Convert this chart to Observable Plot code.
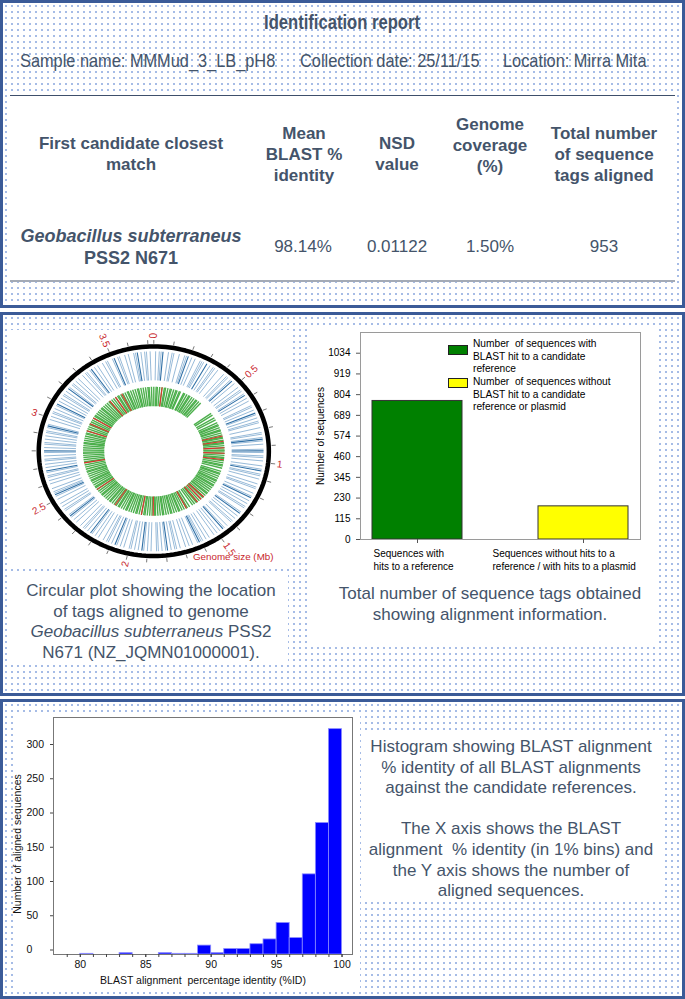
<!DOCTYPE html>
<html><head><meta charset="utf-8">
<script src="https://cdn.jsdelivr.net/npm/d3@7"></script>
<script src="https://cdn.jsdelivr.net/npm/@observablehq/plot@0.6"></script>
<style>
html,body{margin:0;padding:0;background:#fff;}
body{width:685px;height:999px;position:relative;overflow:hidden;font-family:"Liberation Sans",Arial,sans-serif;color:#44546a;}
.panel{position:absolute;box-sizing:border-box;border:3px solid #3b5b98;background-color:#fff;
  background-image:radial-gradient(circle at center,#a6bce6 0.75px,rgba(255,255,255,0) 1.2px);background-size:6px 6px;}
.white{position:absolute;background:#fff;}
.t{position:absolute;transform:translate(-50%,-50%);white-space:nowrap;text-align:center;}
.hd{font-weight:bold;font-size:17px;line-height:21px;}
.val{font-size:17px;}
.cap{font-size:17px;line-height:20.6px;}
.abs{position:absolute;}
.sl{position:absolute;white-space:nowrap;font-size:19px;transform-origin:left center;transform:scaleX(0.86);}
.leg{position:absolute;font-size:10.2px;line-height:12.7px;color:#000;white-space:nowrap;}
.sw{position:absolute;box-sizing:border-box;border:1px solid #222;}
svg{overflow:visible;}
</style>
</head><body>
<script>
// ---------------- DATA ----------------
const reportTitle = "Identification report";
const sampleName = "MMMud_3_LB_pH8";
const collectionDate = "25/11/15";
const sampleLocation = "Mirra Mita";
const candidateName = "Geobacillus subterraneus";
const candidateStrain = "PSS2 N671";
const meanIdentity = "98.14%";
const nsdValue = "0.01122";
const genomeCoverage = "1.50%";
const totalTags = "953";

// circular plot (positions in Mb)
const genomeLength = 3.73;
const genomeTickLabels = [0, 0.5, 1, 1.5, 2, 2.5, 3, 3.5];
const blueTags = [0.01,0.03,0.04,0.08,0.10,0.11,0.14,0.17,0.18,0.21,0.23,0.26,0.27,0.28,0.32,0.34,0.35,0.37,0.41,0.43,0.44,0.46,0.49,0.52,0.54,0.55,0.57,0.60,0.62,0.65,0.66,0.68,0.71,0.73,0.75,0.76,0.79,0.82,0.83,0.85,0.87,0.89,0.92,0.94,0.96,0.97,0.99,1.02,1.04,1.07,1.08,1.10,1.13,1.15,1.16,1.19,1.21,1.24,1.26,1.28,1.29,1.32,1.35,1.37,1.39,1.40,1.43,1.45,1.48,1.50,1.52,1.55,1.57,1.59,1.60,1.62,1.65,1.67,1.69,1.72,1.74,1.75,1.77,1.80,1.82,1.84,1.85,1.88,1.90,1.92,1.95,1.97,1.99,2.00,2.03,2.05,2.07,2.10,2.12,2.13,2.15,2.18,2.20,2.22,2.25,2.27,2.28,2.30,2.33,2.35,2.37,2.39,2.42,2.43,2.45,2.47,2.50,2.52,2.54,2.55,2.57,2.60,2.62,2.64,2.65,2.67,2.70,2.72,2.74,2.75,2.77,2.79,2.82,2.84,2.85,2.87,2.89,2.91,2.92,2.94,2.96,2.99,3.01,3.03,3.04,3.06,3.08,3.11,3.13,3.15,3.16,3.18,3.21,3.23,3.24,3.26,3.28,3.31,3.33,3.34,3.36,3.39,3.41,3.44,3.46,3.47,3.50,3.53,3.54,3.57,3.59,3.62,3.63,3.66,3.68,3.69,3.71];
const blueDarkTags = [0.05,0.19,0.30,0.47,0.58,0.70,0.86,0.93,1.05,1.22,1.33,1.46,1.61,1.79,1.93,2.08,2.23,2.38,2.53,2.68,2.80,2.95,3.09,3.20,3.37,3.51,3.64];
const greenTags = [0.00,0.02,0.03,0.05,0.07,0.09,0.10,0.12,0.14,0.15,0.17,0.19,0.20,0.22,0.23,0.26,0.27,0.29,0.31,0.32,0.34,0.36,0.38,0.39,0.41,0.43,0.56,0.58,0.61,0.63,0.66,0.68,0.69,0.71,0.73,0.74,0.76,0.78,0.80,0.81,0.83,0.85,0.86,0.88,0.90,0.92,0.93,0.95,0.97,0.99,1.00,1.02,1.04,1.06,1.07,1.09,1.12,1.14,1.15,1.17,1.19,1.21,1.22,1.24,1.26,1.27,1.29,1.31,1.33,1.35,1.36,1.38,1.40,1.41,1.43,1.45,1.47,1.48,1.50,1.52,1.55,1.57,1.58,1.60,1.62,1.64,1.65,1.67,1.69,1.71,1.72,1.74,1.76,1.78,1.79,1.81,1.83,1.85,1.86,1.88,1.90,1.92,1.94,1.95,1.97,1.99,2.01,2.02,2.04,2.06,2.08,2.10,2.11,2.13,2.15,2.17,2.18,2.20,2.22,2.24,2.26,2.27,2.29,2.31,2.33,2.35,2.36,2.38,2.40,2.42,2.44,2.45,2.47,2.49,2.51,2.52,2.54,2.56,2.58,2.60,2.61,2.63,2.65,2.67,2.69,2.70,2.72,2.74,2.76,2.78,2.79,2.81,2.83,2.85,2.87,2.88,2.90,2.92,2.94,2.96,2.97,2.99,3.01,3.03,3.05,3.06,3.08,3.10,3.12,3.14,3.15,3.17,3.19,3.21,3.23,3.24,3.26,3.28,3.30,3.32,3.33,3.35,3.37,3.39,3.41,3.42,3.44,3.46,3.48,3.50,3.51,3.53,3.55,3.57,3.59,3.60,3.62,3.64,3.66,3.68,3.69,3.71];
const redTags = [0.07,0.79,0.84,0.90,0.95,1.01,1.40,1.43,1.47,1.58,1.87,1.97,2.21,2.42,2.69,2.99,3.06,3.12,3.33,3.39,3.45];

// bar chart
const barCategories = ["Sequences with\nhits to a reference", "Sequences without hits to a\nreference / with hits to a plasmid"];
const barValues = [769, 184];
const barColors = ["#008000", "#ffff00"];
const barTicks = [0, 115, 230, 345, 460, 574, 689, 804, 919, 1034];
const barLegend = ["Number  of sequences with\nBLAST hit to a candidate\nreference", "Number  of sequences without\nBLAST hit to a candidate\nreference or plasmid"];

// histogram (1% bins, bin start)
const binStarts = [80, 83, 86, 87, 88, 89, 90, 91, 92, 93, 94, 95, 96, 97, 98, 99];
const binCounts = [1, 2, 2, 1, 1, 13, 2, 8, 8, 15, 22, 46, 24, 117, 192, 329];
const histYTicks = [0, 50, 100, 150, 200, 250, 300];
const histXLabels = [80, 85, 90, 95, 100];

// ---------------- LAYOUT ----------------
function el(tag, cls, style, html) {
  const e = document.createElement(tag);
  if (cls) e.className = cls;
  if (style) e.style.cssText = style;
  if (html != null) e.innerHTML = html;
  document.body.appendChild(e);
  return e;
}
el("div", "panel", "left:0;top:0;width:685px;height:308px;");
el("div", "panel", "left:0;top:312px;width:685px;height:384px;");
el("div", "panel", "left:0;top:699px;width:685px;height:300px;");

// Panel 1
el("div", "white", "left:10px;top:95px;width:665px;height:187px;border-top:1.5px solid #3e4f6b;border-bottom:2px solid #a3aab6;box-sizing:border-box;");
el("div", "t", "left:342px;top:22px;font-size:20px;font-weight:bold;transform:translate(-50%,-50%) scaleX(0.83);", reportTitle);
el("div", "sl", "left:20px;top:50px;", "Sample name: " + sampleName);
el("div", "sl", "left:300px;top:50px;", "Collection date: " + collectionDate);
el("div", "sl", "left:503px;top:50px;", "Location: " + sampleLocation);
el("div", "t hd", "left:131px;top:154px;", "First candidate closest<br>match");
el("div", "t hd", "left:304px;top:154px;", "Mean<br>BLAST %<br>identity");
el("div", "t hd", "left:397px;top:154px;", "NSD<br>value");
el("div", "t hd", "left:490px;top:145px;", "Genome<br>coverage<br>(%)");
el("div", "t hd", "left:604px;top:154px;", "Total number<br>of sequence<br>tags aligned");
el("div", "t hd", "left:131px;top:247px;font-size:18px;line-height:22px;", "<i>" + candidateName + "</i><br>" + candidateStrain);
el("div", "t val", "left:303px;top:247px;", meanIdentity);
el("div", "t val", "left:397px;top:247px;", nsdValue);
el("div", "t val", "left:490px;top:247px;", genomeCoverage);
el("div", "t val", "left:604px;top:247px;", totalTags);

// Panel 2 boxes
const circBox = el("div", "white", "left:8px;top:330px;width:284px;height:238px;");
el("div", "white", "left:8px;top:573px;width:280px;height:90px;");
const barBox = el("div", "white", "left:308px;top:328px;width:349px;height:317px;");
el("div", "t cap", "left:151px;top:622px;", "Circular plot showing the location<br>of tags aligned to genome<br><i>" + candidateName + "</i> " + candidateStrain.split(" ")[0] + "<br>" + candidateStrain.split(" ")[1] + " (NZ_JQMN01000001).");
el("div", "t cap", "left:490px;top:605px;", "Total number of sequence tags obtained<br>showing alignment information.");

// Panel 3 boxes
const histBox = el("div", "white", "left:15px;top:712px;width:345px;height:279px;");
el("div", "white", "left:362px;top:732px;width:301px;height:170px;");
el("div", "t cap", "left:511px;top:819px;", "Histogram showing BLAST alignment<br>% identity of all BLAST alignments<br>against the candidate references.<br>&nbsp;<br>The X axis shows the BLAST<br>alignment&nbsp; % identity (in 1% bins) and<br>the Y axis shows the number of<br>aligned sequences.");

// ---------------- CIRCULAR PLOT ----------------
const ang = mb => mb / genomeLength * 2 * Math.PI;
const radial = (arr, r1, r2) => arr.map(mb => ({
  x1: r1 * Math.sin(ang(mb)), y1: r1 * Math.cos(ang(mb)),
  x2: r2 * Math.sin(ang(mb)), y2: r2 * Math.cos(ang(mb))
}));
const ringPts = d3.range(0, 361, 2).map(a => ({x: 0.975 * Math.sin(a * Math.PI / 180), y: 0.975 * Math.cos(a * Math.PI / 180)}));
const minorTicks = d3.range(0, genomeLength, 0.1);
const lab = genomeTickLabels.map(mb => {
  const th = ang(mb) * 180 / Math.PI;
  const r = 1.05;
  return {mb, th, x: r * Math.sin(ang(mb)), y: r * Math.cos(ang(mb)), right: th <= 180};
});
const circ = Plot.plot({
  width: 284, height: 238, margin: 0,
  x: {domain: [-1, 1], range: [27.3, 263.3], axis: null},
  y: {domain: [-1, 1], range: [228.3, 13.3], axis: null},
  style: {background: "transparent", fontFamily: "'Liberation Sans', Arial, sans-serif"},
  marks: [
    Plot.link(radial(blueTags, 0.66, 0.93), {x1: "x1", y1: "y1", x2: "x2", y2: "y2", stroke: "#6e9fc8", strokeWidth: 0.9, strokeOpacity: 0.8}),
    Plot.link(radial(blueDarkTags, 0.66, 0.93), {x1: "x1", y1: "y1", x2: "x2", y2: "y2", stroke: "#2f6fa5", strokeWidth: 1.1}),
    Plot.link(radial(greenTags, 0.42, 0.60), {x1: "x1", y1: "y1", x2: "x2", y2: "y2", stroke: "#4caf4c", strokeWidth: 1.4}),
    Plot.link(radial(redTags, 0.42, 0.60), {x1: "x1", y1: "y1", x2: "x2", y2: "y2", stroke: "#e0302c", strokeWidth: 1.1}),
    Plot.line(ringPts, {x: "x", y: "y", curve: "linear-closed", stroke: "#000", strokeWidth: 4.5}),
    Plot.link(radial(minorTicks, 1.0, 1.035), {x1: "x1", y1: "y1", x2: "x2", y2: "y2", stroke: "#555", strokeWidth: 0.8}),
    Plot.text(lab.filter(d => d.right), {x: "x", y: "y", text: d => String(d.mb), rotate: d => d.th - 90, textAnchor: "start", fill: "#c8262c", fontSize: 10}),
    Plot.text(lab.filter(d => !d.right), {x: "x", y: "y", text: d => String(d.mb), rotate: d => d.th + 90, textAnchor: "end", fill: "#c8262c", fontSize: 10}),
    Plot.text(["Genome size (Mb)"], {frameAnchor: "bottom-right", dx: -19, dy: -9, textAnchor: "end", fill: "#c8262c", fontSize: 9.8})
  ]
});
circ.style.position = "absolute"; circ.style.left = "0px"; circ.style.top = "0px";
circBox.appendChild(circ);

// ---------------- BAR CHART ----------------
const barData = barCategories.map((c, i) => ({cat: c, value: barValues[i], color: barColors[i]}));
const bar = Plot.plot({
  width: 349, height: 262, marginLeft: 52, marginRight: 17, marginTop: 4, marginBottom: 51,
  style: {fontFamily: "'Liberation Sans', Arial, sans-serif", fontSize: "10px", background: "transparent", color: "#000"},
  x: {domain: barCategories, paddingInner: 0.458, paddingOuter: 0.072, label: null},
  y: {domain: [0, 1149], label: null},
  color: {type: "identity"},
  marks: [
    Plot.barY(barData, {x: "cat", y: "value", fill: "color", stroke: "#333", strokeWidth: 1}),
    Plot.frame({stroke: "#9a9a9a"}),
    Plot.axisY({ticks: barTicks, tickFormat: d => String(d), tickSize: 4, tickPadding: 6, label: null, stroke: "#555"}),
    Plot.axisX({tickSize: 4, tickFormat: () => "", label: null, stroke: "#555"}),
    Plot.text([barCategories[0]], {x: d => d, frameAnchor: "bottom", dx: -44, dy: 8, textAnchor: "start", lineAnchor: "top", lineHeight: 1.33, fontSize: 10, fill: "#000"}),
    Plot.text([barCategories[1]], {x: d => d, frameAnchor: "bottom", dx: -91, dy: 8, textAnchor: "start", lineAnchor: "top", lineHeight: 1.33, fontSize: 10, fill: "#000"}),
    Plot.text(["Number of sequences"], {frameAnchor: "left", dx: -40, rotate: -90, textAnchor: "middle", fontSize: 10, fill: "#000"})
  ]
});
bar.style.position = "absolute"; bar.style.left = "0px"; bar.style.top = "0px";
barBox.appendChild(bar);
// legend inside the plot area
el("div", "sw", "left:448px;top:345px;width:20px;height:10px;background:" + barColors[0] + ";");
el("div", "sw", "left:448px;top:378px;width:20px;height:10px;background:" + barColors[1] + ";");
el("div", "leg", "left:473px;top:338px;", barLegend[0].replace(/\n/g, "<br>").replace(/  /g, "&nbsp; "));
el("div", "leg", "left:473px;top:376px;", barLegend[1].replace(/\n/g, "<br>").replace(/  /g, "&nbsp; "));

// ---------------- HISTOGRAM ----------------
const histData = binStarts.map((b, i) => ({x1: b, x2: b + 1, y: binCounts[i]}));
const hist = Plot.plot({
  width: 345, height: 279, marginLeft: 38, marginRight: 8, marginTop: 5, marginBottom: 37,
  style: {fontFamily: "'Liberation Sans', Arial, sans-serif", fontSize: "10.5px", background: "transparent", color: "#111"},
  x: {domain: [77.95, 100.8], label: null},
  y: {domain: [0, 346], label: null},
  marks: [
    Plot.rectY(histData, {x1: "x1", x2: "x2", y: "y", fill: "#0000ff", stroke: "#8c8cff", strokeWidth: 0.8}),
    Plot.frame({stroke: "#777"}),
    Plot.axisX({ticks: d3.range(79, 101), tickSize: 3, tickFormat: () => "", stroke: "#444"}),
    Plot.axisX({ticks: histXLabels, tickSize: 3, tickPadding: 3, stroke: "#444", label: null}),
    Plot.axisY({ticks: histYTicks, tickSize: 3, tickPadding: 24, textAnchor: "start", dy: -4.5, stroke: "#444", label: null}),
    Plot.text(["Number of aligned sequences"], {frameAnchor: "left", dx: -36, dy: 8, rotate: -90, textAnchor: "middle", fontSize: 10.5, fill: "#111"}),
    Plot.text(["BLAST alignment  percentage identity (%ID)"], {frameAnchor: "bottom", dy: 29, fontSize: 10.5, fill: "#111"})
  ]
});
hist.style.position = "absolute"; hist.style.left = "0px"; hist.style.top = "0px";
histBox.appendChild(hist);
</script>
</body></html>
